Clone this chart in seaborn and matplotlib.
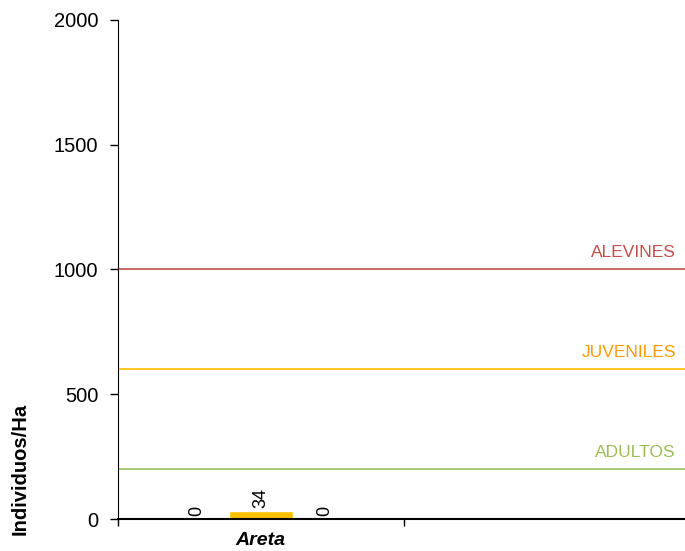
import matplotlib
matplotlib.use("Agg")
import matplotlib.pyplot as plt
import pandas as pd
import seaborn as sns

# datos
sitios = ["Areta"]
estadios = ["ALEVINES", "JUVENILES", "ADULTOS"]
valores = [0, 34, 0]
umbrales = [1000, 600, 200]
colores_barra = ["#C0504D", "#FFC000", "#9BBB59"]
colores_linea = ["#C0504D", "#FFC000", "#9BBB59"]
colores_texto = ["#C0504D", "#FF9900", "#9BBB59"]

sns.set_style("white")
plt.rcParams['font.family'] = ['Liberation Sans', 'DejaVu Sans']
plt.rcParams['text.color'] = 'black'
plt.rcParams['axes.labelcolor'] = 'black'
plt.rcParams['xtick.color'] = 'black'
plt.rcParams['ytick.color'] = 'black'

data = pd.DataFrame({"sitio": sitios * 3, "estadio": estadios, "valor": valores})

fig = plt.figure(figsize=(6.85, 5.51), dpi=100)
ax = fig.add_axes([0.172, 0.058, 0.828, 0.906])

sns.barplot(data=data, x="sitio", y="valor", hue="estadio", hue_order=estadios,
            palette=colores_barra, width=0.67, ax=ax, legend=False, saturation=1)

for cont in ax.containers:
    ax.bar_label(cont, labels=[str(int(v)) for v in cont.datavalues],
                 rotation=90, padding=2, fontsize=13)

for u, cl, ct, nombre in zip(umbrales, colores_linea, colores_texto, estadios):
    ax.axhline(u, color=cl, lw=1.2, zorder=0)
    ax.text(1.45, u + 48, nombre, color=ct, fontsize=12.5, ha="right", va="baseline")

ax.set_xlim(-0.5, 1.482)
ax.set_ylim(0, 2000)
ax.set_yticks([0, 500, 1000, 1500, 2000])
ax.tick_params(axis="y", labelsize=14.5, length=6, width=1, direction="out",
               left=True, pad=8)
ax.set_xticks([0], sitios)
ax.set_xticks([-0.5, 0.5], minor=True)
ax.tick_params(axis="x", which="major", length=0, pad=9)
ax.tick_params(axis="x", which="minor", length=5, width=1, direction="out", bottom=True)
for lab in ax.get_xticklabels():
    lab.set_fontweight("bold")
    lab.set_fontstyle("italic")
    lab.set_fontsize(14)

ax.set_xlabel("")
ax.set_ylabel("Individuos/Ha", fontsize=14.5, fontweight="bold", va="center")
ax.yaxis.set_label_coords(-0.173, 0.101)
ax.spines["top"].set_visible(False)
ax.spines["right"].set_visible(False)
ax.spines["left"].set_color("black")
ax.spines["bottom"].set_color("black")
ax.spines["bottom"].set_linewidth(1.5)

fig.savefig("out.png", dpi=100)
